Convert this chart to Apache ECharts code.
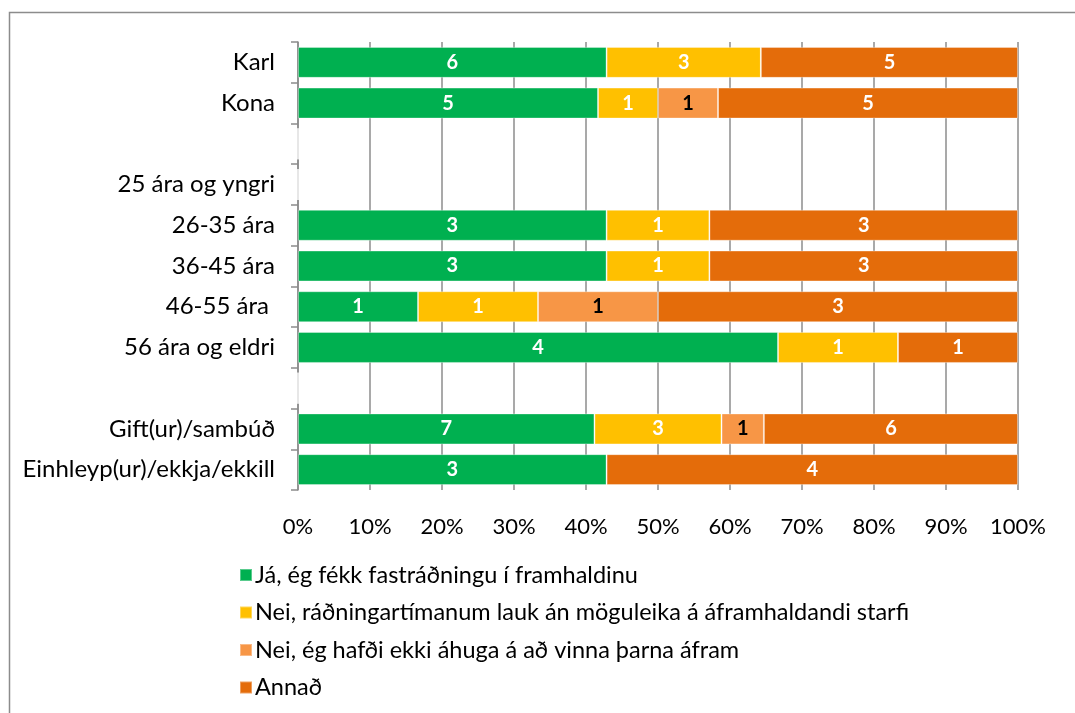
<!DOCTYPE html>
<html>
<head>
<meta charset="utf-8">
<script src="https://cdn.jsdelivr.net/npm/echarts@6/dist/echarts.min.js"></script>
<style>
  html, body { margin: 0; padding: 0; background: #fff; }
  #chart { width: 1075px; height: 713px; }
</style>
</head>
<body>
<div id="chart"></div>
<script>
// categories, top to bottom (blank rows are spacers)
const categories = ['Karl', 'Kona', ' ', '25 ára og yngri', '26-35 ára', '36-45 ára', '46-55 ára ', '56 ára og eldri', '  ', 'Gift(ur)/sambúð', 'Einhleyp(ur)/ekkja/ekkill'];

const seriesNames = [
  'Já, ég fékk fastráðningu í framhaldinu',
  'Nei, ráðningartímanum lauk án möguleika á áframhaldandi starfi',
  'Nei, ég hafði ekki áhuga á að vinna þarna áfram',
  'Annað'
];

// counts per category
const fastradning = [6, 5, 0, 0, 3, 3, 1, 4, 0, 7, 3];
const radningLauk = [3, 1, 0, 0, 1, 1, 1, 1, 0, 3, 0];
const ekkiAhuga   = [0, 1, 0, 0, 0, 0, 1, 0, 0, 1, 0];
const annad       = [5, 5, 0, 0, 3, 3, 3, 1, 0, 6, 4];

const colors = ['#00B050', '#FFC000', '#F79646', '#E46C0A'];
const labelColors = ['#fff', '#fff', '#000', '#fff'];
const xTicks = [0, 10, 20, 30, 40, 50, 60, 70, 80, 90, 100];

const counts = [fastradning, radningLauk, ekkiAhuga, annad];
const totals = categories.map((_, i) => counts.reduce((s, arr) => s + arr[i], 0));

const font = 'Lato, "Open Sans", sans-serif';

const chart = echarts.init(document.getElementById('chart'));

chart.setOption({
  animation: false,
  color: colors,
  graphic: [{
    type: 'rect',
    shape: { x: 9.5, y: 12.5, width: 1200, height: 900 },
    style: { fill: 'none', stroke: '#8c8c8c', lineWidth: 1.5 },
    silent: true
  }],
  grid: { left: 298, right: 57, top: 42, bottom: 223 },
  legend: {
    orient: 'vertical',
    left: 234,
    top: 558,
    itemWidth: 12,
    itemHeight: 12,
    itemGap: 13.5,
    icon: 'rect',
    textStyle: { fontFamily: font, fontSize: 23.5, color: '#000', padding: [0, 0, 0, -2] },
    data: seriesNames
  },
  xAxis: {
    type: 'value',
    min: 0,
    max: 100,
    interval: 10,
    axisLine: { show: false },
    axisTick: { show: false },
    axisLabel: {
      fontFamily: font, fontSize: 22, color: '#000', margin: 26,
      formatter: v => xTicks.includes(v) ? v + '%' : ''
    },
    splitLine: { lineStyle: { color: '#8c8c8c', width: 1.5 } }
  },
  yAxis: {
    type: 'category',
    inverse: true,
    data: categories,
    axisLine: { show: true, lineStyle: { color: '#8c8c8c', width: 1.5 } },
    axisTick: { show: true, length: 7, lineStyle: { color: '#8c8c8c', width: 1.5 } },
    axisLabel: { fontFamily: font, fontSize: 24, color: '#000', margin: 23 }
  },
  series: counts.map((arr, s) => ({
    name: seriesNames[s],
    type: 'bar',
    stack: 'total',
    barCategoryGap: '24%',
    itemStyle: { borderColor: 'rgba(255,255,255,0.35)', borderWidth: 1 },
    label: {
      show: true,
      position: 'inside',
      fontFamily: font,
      fontSize: 20,
      fontWeight: 'bold',
      color: labelColors[s],
      formatter: p => p.data.count ? String(p.data.count) : ''
    },
    data: arr.map((c, i) => ({
      value: totals[i] ? c / totals[i] * 100 : 0,
      count: c
    }))
  }))
});
</script>
</body>
</html>
